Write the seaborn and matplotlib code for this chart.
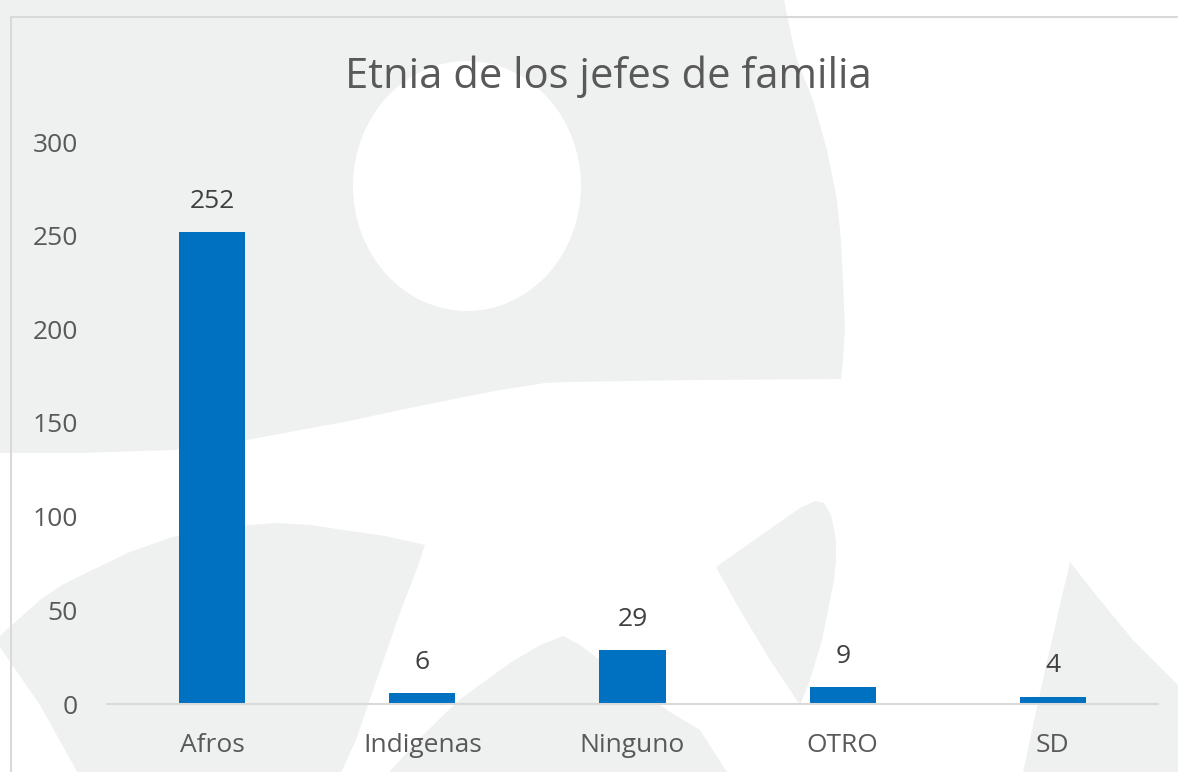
import matplotlib
matplotlib.use("Agg")
import matplotlib.pyplot as plt
import seaborn as sns
import pandas as pd
from matplotlib.patches import Polygon, Ellipse
from matplotlib.lines import Line2D

# data
categorias = ["Afros", "Indigenas", "Ninguno", "OTRO", "SD"]
jefes = [252, 6, 29, 9, 4]
titulo = "Etnia de los jefes de familia"

df = pd.DataFrame({"etnia": categorias, "jefes": jefes})

sns.set_style("white")
plt.rcParams['font.family'] = ['Open Sans', 'DejaVu Sans']

W, H = 1178, 772
fig = plt.figure(figsize=(W / 100, H / 100), dpi=100, facecolor="white")


def px(pts):
    # pixel coords (top-left origin) -> figure fraction
    return [(x / W, 1 - y / H) for x, y in pts]


# light watermark shapes in the background
gris = "#eff0f0"
formas = [
    [(0, -5), (783, -5), (790, 30), (797, 60), (813, 100), (827, 150), (837, 200),
     (841, 240), (843, 280), (845, 330), (843, 360), (841, 379), (700, 380), (631, 381),
     (570, 382), (545, 383), (500, 390), (459, 398), (400, 410), (344, 422), (300, 430),
     (247, 440), (210, 446), (172, 450), (80, 453), (-5, 453)],
    [(-5, 640), (20, 618), (40, 600), (62, 585), (86, 573), (130, 552), (172, 537),
     (225, 527), (276, 523), (310, 525), (344, 530), (385, 536), (425, 545), (414, 577),
     (402, 607), (379, 673), (356, 740), (339, 777), (80, 777), (40, 705)],
    [(385, 777), (420, 738), (459, 700), (510, 663), (540, 645), (563, 636), (580, 645),
     (600, 660), (640, 690), (670, 712), (700, 730), (730, 777)],
    [(716, 567), (760, 536), (800, 508), (815, 501), (824, 503), (831, 515), (836, 540),
     (836, 560), (834, 580), (822, 640), (810, 680), (800, 705), (770, 660), (740, 610)],
    [(1070, 562), (1100, 600), (1133, 640), (1183, 690), (1183, 777), (1022, 777), (1045, 670)],
]
for f in formas:
    fig.add_artist(Polygon(px(f), closed=True, transform=fig.transFigure,
                           facecolor=gris, edgecolor="none", zorder=-3))
fig.add_artist(Ellipse((467 / W, 1 - 186 / H), 228 / W, 250 / H, transform=fig.transFigure,
                       facecolor="white", edgecolor="none", zorder=-2))

# chart area border
borde = "#d9d9d9"
fig.add_artist(Line2D([11 / W, 11 / W], [0, 1 - 17 / H], transform=fig.transFigure,
                      color=borde, lw=1.5, zorder=-1))
fig.add_artist(Line2D([11 / W, 1], [1 - 17 / H, 1 - 17 / H], transform=fig.transFigure,
                      color=borde, lw=1.5, zorder=-1))

ax = fig.add_axes([107 / W, (H - 704) / H, (1158 - 107) / W, (704 - 142) / H])
ax.set_facecolor("none")

sns.barplot(data=df, x="etnia", y="jefes", color="#0070C0", width=0.315,
            saturation=1, linewidth=0, ax=ax)

ax.set_xlim(-0.5, 4.5)
ax.set_ylim(0, 300)
ax.set_yticks(range(0, 301, 50))
ax.set_xlabel("")
ax.set_ylabel("")
for s in ["top", "right", "left"]:
    ax.spines[s].set_visible(False)
ax.spines["bottom"].set_color(borde)
ax.spines["bottom"].set_linewidth(1.5)
ax.tick_params(axis="y", length=0, pad=21, labelsize=19, labelcolor="#595959")
ax.tick_params(axis="x", length=0, pad=21, labelsize=19, labelcolor="#595959")

ax.bar_label(ax.containers[0], labels=[str(v) for v in jefes], padding=13,
             fontsize=19, color="#404040")

fig.text(608 / W, 1 - 88 / H, titulo, ha="center", va="baseline",
         fontsize=30, color="#595959")

fig.savefig("out.png", dpi=100)
